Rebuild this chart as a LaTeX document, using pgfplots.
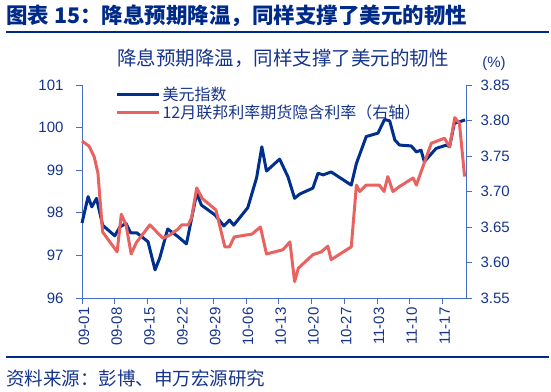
\documentclass[border=0pt]{standalone}
\usepackage{pgfplots}
\pgfplotsset{compat=1.18}
\usepackage{fontspec}
\setmainfont{Liberation Sans}
\newfontfamily\cjk{Noto Sans CJK SC}
\definecolor{navy}{RGB}{0,48,140}
\definecolor{redl}{RGB}{232,98,96}
\definecolor{axc}{RGB}{70,110,195}
\definecolor{txt}{RGB}{22,52,140}
\definecolor{ttl}{RGB}{0,42,135}
\pgfplotstableread{
d v
0 97.76
1.3 98.38
2.1 98.14
3.1 98.34
4.4 97.71
7.0 97.46
8.1 97.67
9.4 97.75
10.4 97.53
11.7 97.53
14.1 97.32
15.6 96.66
16.6 96.94
18.3 97.62
20.5 97.44
22.3 97.27
24.5 98.46
25.5 98.18
28.4 97.95
30.3 97.69
31.5 97.83
32.4 97.71
35.4 98.12
37.3 98.83
38.4 99.55
39.4 98.98
42.2 99.26
44.0 98.84
45.4 98.34
46.5 98.44
49.3 98.58
50.4 98.93
51.5 98.89
53.2 98.96
57.5 98.65
58.6 99.16
60.7 99.79
63.2 99.87
64.6 100.19
65.7 100.16
66.8 99.71
67.8 99.59
70.3 99.57
71.4 99.43
72.4 99.47
73.1 99.20
75.6 99.51
77.8 99.59
78.5 99.55
79.5 100.10
81.0 100.15
81.8 100.18
}\dxy
\pgfplotstableread{
d r
0 3.771
1.5 3.764
2.6 3.749
3.4 3.726
4.4 3.643
7.5 3.615
8.4 3.668
9.4 3.653
10.5 3.612
11.6 3.628
14.5 3.653
17.3 3.634
18.8 3.639
20.5 3.647
21.3 3.653
22.7 3.653
23.4 3.663
24.5 3.705
25.7 3.690
28.6 3.674
30.5 3.622
31.5 3.622
32.5 3.636
36.3 3.640
38.1 3.650
39.4 3.612
42.9 3.618
44.4 3.629
45.4 3.573
46.2 3.592
49.3 3.611
51.1 3.615
52.5 3.623
53.2 3.604
57.5 3.622
58.6 3.709
59.3 3.700
60.7 3.709
63.5 3.709
64.5 3.700
65.3 3.721
66.4 3.700
67.8 3.707
70.7 3.719
71.4 3.709
72.8 3.735
74.6 3.768
77.4 3.775
78.5 3.763
79.6 3.804
80.6 3.796
81.7 3.721
}\fut
\begin{document}
\begin{tikzpicture}[x=1pt,y=1pt]
\useasboundingbox (0,0) rectangle (551,391);
\node[anchor=west, text=ttl, font=\cjk\bfseries\fontsize{21.5}{21.5}\selectfont, inner sep=0] at (6,375.5) {图表 15：降息预期降温，同样支撑了美元的韧性};
\fill[ttl] (6,357.5) rectangle (549,360);
\node[text=txt, font=\cjk\fontsize{19.5}{19.5}\selectfont, inner sep=0] at (283,333) {降息预期降温，同样支撑了美元的韧性};
\node[text=txt, font=\fontsize{15}{15}\selectfont, inner sep=0] at (494,327) {(\%)};
\fill[ttl] (6,33.5) rectangle (549,35.5);
\node[anchor=west, text=txt, font=\cjk\fontsize{18.5}{18.5}\selectfont, inner sep=0] at (6,13) {资料来源：彭博、申万宏源研究};
\begin{axis}[
  at={(82pt,93pt)}, anchor=south west, scale only axis,
  width=384pt, height=213pt,
  xmin=0, xmax=82, ymin=96, ymax=101,
  axis x line*=bottom, axis y line*=left,
  axis line style={axc, line width=0.8pt},
  tick style={axc, line width=0.8pt},
  tick align=outside, major tick length=6pt,
  xtick={0,7,...,77},
  xticklabels={09-01,09-08,09-15,09-22,09-29,10-06,10-13,10-20,10-27,11-03,11-10,11-17},
  ytick={96,97,...,101},
  xticklabel style={rotate=90, anchor=east, yshift=-2pt, font=\fontsize{15}{15}\selectfont, text=txt},
  yticklabel style={xshift=-9pt, font=\fontsize{15}{15}\selectfont, text=txt},
  /pgf/number format/assume math mode=true,
  clip=false,
]
\addplot[navy, line width=3pt, line join=round] table[x=d,y=v] {\dxy};
\end{axis}
\begin{axis}[
  at={(82pt,93pt)}, anchor=south west, scale only axis,
  width=384pt, height=213pt,
  xmin=0, xmax=82, ymin=3.55, ymax=3.85,
  axis x line=none, axis y line*=right,
  axis line style={axc, line width=0.8pt},
  tick style={axc, line width=0.8pt},
  tick align=outside, major tick length=6pt,
  ytick={3.55,3.60,...,3.86},
  yticklabel style={xshift=5pt, font=\fontsize{15}{15}\selectfont, text=txt, /pgf/number format/.cd, fixed, fixed zerofill, precision=2},
  /pgf/number format/assume math mode=true,
  legend style={at={(0.087,1.0)}, anchor=north west, draw=none, fill=none, inner sep=0pt,
    font=\cjk\fontsize{16}{16}\selectfont, text=txt, row sep=-1pt},
  legend cell align=left,
  legend image code/.code={\draw[#1, line width=3pt] (0pt,0pt) -- (42pt,0pt);},
  clip=false,
]
\addlegendimage{navy}
\addlegendentry{美元指数}
\addplot[redl, line width=3pt, line join=round] table[x=d,y=r] {\fut};
\addlegendentry{12月联邦利率期货隐含利率（右轴）}
\end{axis}
\end{tikzpicture}
\end{document}
